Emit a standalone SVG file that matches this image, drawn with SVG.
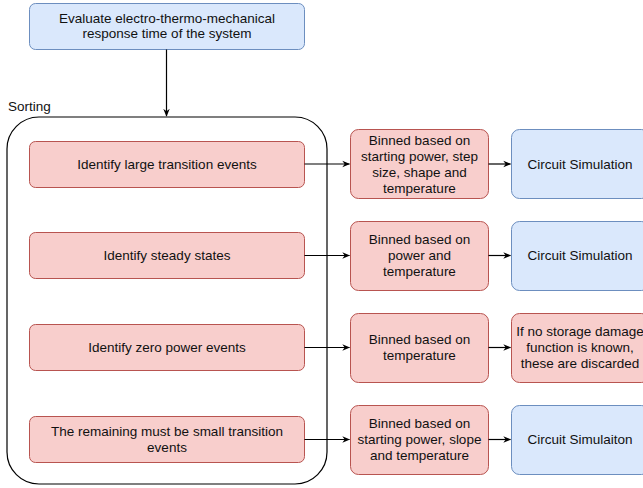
<svg xmlns="http://www.w3.org/2000/svg" width="643" height="488" viewBox="0 0 643 488">
<defs>
<marker id="ah" viewBox="0 0 10 10" refX="9" refY="5" markerWidth="8" markerHeight="8" markerUnits="userSpaceOnUse" orient="auto">
<path d="M0,1 L10,5 L0,9 L3,5 Z" fill="#000"/>
</marker>
<style>
.blue{fill:#dae8fc;stroke:#6c8ebf;stroke-width:1}
.red{fill:#f8cecc;stroke:#b85450;stroke-width:1}
text{font-family:"Liberation Sans",Arial,sans-serif;font-size:13.5px;fill:#111;text-anchor:middle;dominant-baseline:central}
.conn{stroke:#000;stroke-width:1.2;fill:none;marker-end:url(#ah)}
</style>
</defs>
<rect width="643" height="488" fill="#fff"/>
<g id="sorting">
<rect x="7" y="117" width="320" height="367" rx="32" ry="32" fill="none" stroke="#000" stroke-width="1.2"/>
<text x="8" y="106" style="text-anchor:start">Sorting</text>
</g>
<g id="evaluate">
<rect class="blue" x="29.5" y="3.5" width="275" height="46" rx="6"/>
<text x="167" y="18">Evaluate electro-thermo-mechanical</text>
<text x="167" y="33.5">response time of the system</text>
</g>
<g id="id-large">
<rect class="red" x="29.5" y="141.5" width="275" height="46" rx="6"/>
<text x="167" y="164">Identify large transition events</text>
</g>
<g id="id-steady">
<rect class="red" x="29.5" y="232.5" width="275" height="46" rx="6"/>
<text x="167" y="255.5">Identify steady states</text>
</g>
<g id="id-zero">
<rect class="red" x="29.5" y="324.5" width="275" height="46" rx="6"/>
<text x="167" y="347">Identify zero power events</text>
</g>
<g id="id-small">
<rect class="red" x="29.5" y="416.5" width="275" height="46" rx="6"/>
<text x="167" y="431">The remaining must be small transition</text>
<text x="167" y="447">events</text>
</g>
<g id="bin1">
<rect class="red" x="350.5" y="129.5" width="138" height="69" rx="8"/>
<text x="419.5" y="140">Binned based on</text>
<text x="419.5" y="156">starting power, step</text>
<text x="419.5" y="172">size, shape and</text>
<text x="419.5" y="188">temperature</text>
</g>
<g id="bin2">
<rect class="red" x="350.5" y="221.5" width="138" height="69" rx="8"/>
<text x="419.5" y="239.5">Binned based on</text>
<text x="419.5" y="255.5">power and</text>
<text x="419.5" y="271.5">temperature</text>
</g>
<g id="bin3">
<rect class="red" x="350.5" y="313.5" width="138" height="69" rx="8"/>
<text x="419.5" y="339.5">Binned based on</text>
<text x="419.5" y="355.5">temperature</text>
</g>
<g id="bin4">
<rect class="red" x="350.5" y="405.5" width="138" height="69" rx="8"/>
<text x="419.5" y="423.5">Binned based on</text>
<text x="419.5" y="439.5">starting power, slope</text>
<text x="419.5" y="455.5">and temperature</text>
</g>
<g id="sim1">
<rect class="blue" x="511.5" y="129.5" width="138" height="69" rx="8"/>
<text x="580" y="164">Circuit Simulation</text>
</g>
<g id="sim2">
<rect class="blue" x="511.5" y="221.5" width="138" height="69" rx="8"/>
<text x="580" y="255.5">Circuit Simulation</text>
</g>
<g id="discard">
<rect class="red" x="511.5" y="313.5" width="138" height="69" rx="8"/>
<text x="580" y="331.5">If no storage damage</text>
<text x="580" y="347.5">function is known,</text>
<text x="580" y="363.5">these are discarded</text>
</g>
<g id="sim4">
<rect class="blue" x="511.5" y="405.5" width="138" height="69" rx="8"/>
<text x="580" y="439.5">Circuit Simulaiton</text>
</g>
<g id="connectors">
<path class="conn" d="M166.5,49.5 V116"/>
<path class="conn" d="M304.5,164 H349.5"/>
<path class="conn" d="M304.5,255.5 H349.5"/>
<path class="conn" d="M304.5,347.5 H349.5"/>
<path class="conn" d="M304.5,439.5 H349.5"/>
<path class="conn" d="M488.5,164 H510.5"/>
<path class="conn" d="M488.5,255.5 H510.5"/>
<path class="conn" d="M488.5,347.5 H510.5"/>
<path class="conn" d="M488.5,439.5 H510.5"/>
</g>
</svg>
